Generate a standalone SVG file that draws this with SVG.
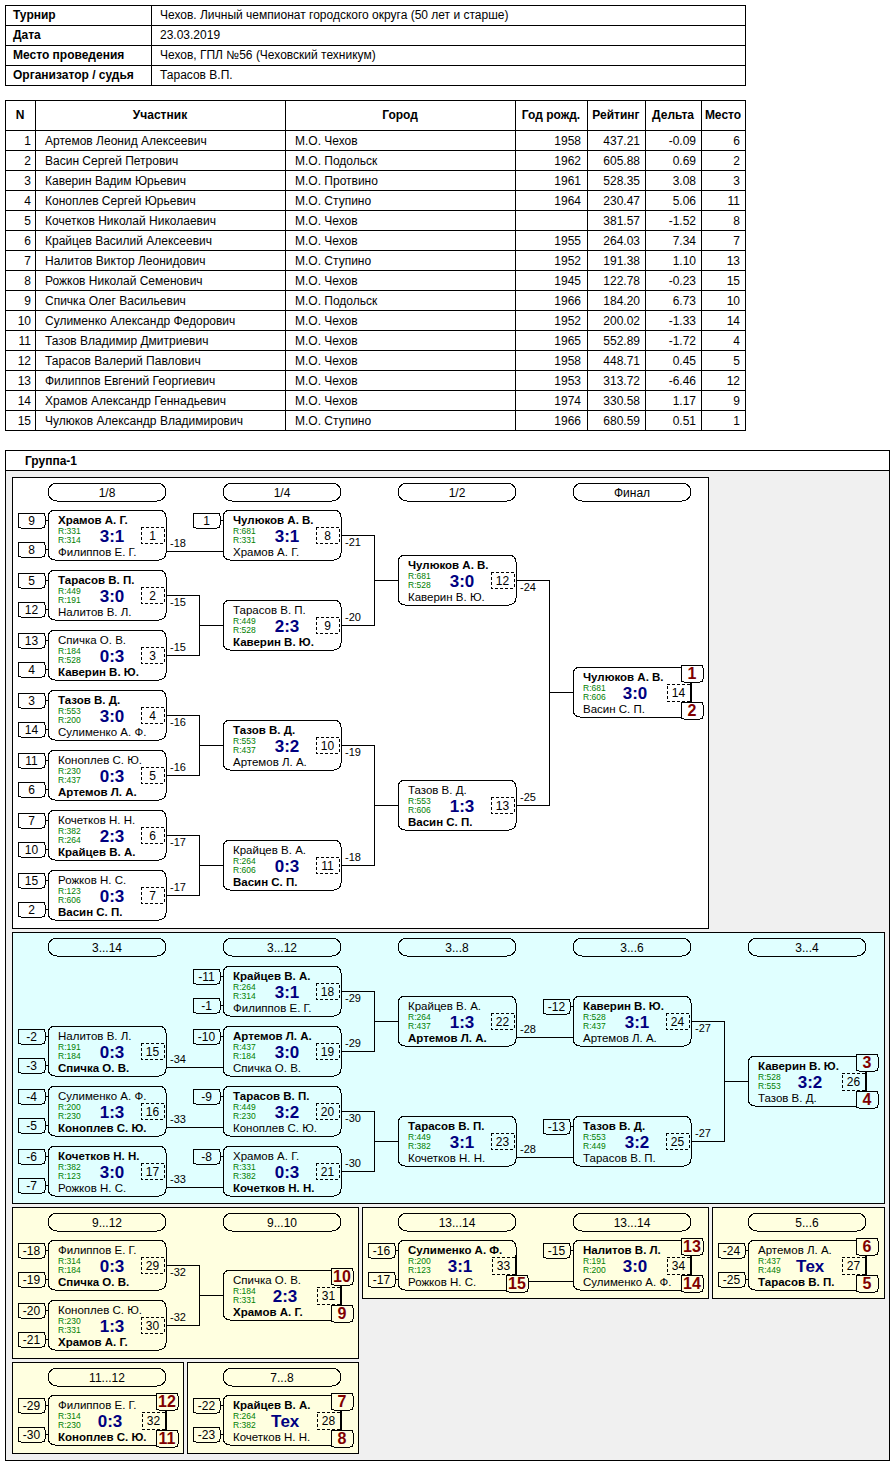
<svg xmlns="http://www.w3.org/2000/svg" width="895" height="1465" viewBox="0 0 895 1465">
<style>
text{font-family:"Liberation Sans",Arial,sans-serif;font-size:12px;fill:#000}
.b{font-weight:bold}
.n{font-size:11.5px}
.r{font-size:8.5px;fill:#008000}
.sc{font-size:17px;font-weight:bold;fill:#000080;text-anchor:middle}
.c{text-anchor:middle}
.e{text-anchor:end}
.lb{font-size:11px}
.bt{font-size:16px;font-weight:bold;fill:#800000;text-anchor:middle}
rect,line,path{shape-rendering:crispEdges}
.bx,.sd,.pl{fill:none;stroke:#000}
.ds{fill:none;stroke:#000;stroke-dasharray:3,2}
.ln{fill:none;stroke:#000}
.bd{stroke:#000;fill:#fff}
.cy .bd{fill:#e0ffff}
.yl .bd{fill:#ffffe0}
.tb{fill:#fff;stroke:#000}
</style>

<g id="info-table">
<rect class="tb" x="5" y="5" width="740" height="80"/>
<path class="ln" d="M5,25H745M5,45H745M5,65H745M151,5V85"/>
<text class="b" x="13" y="19">Турнир</text><text x="160" y="19">Чехов. Личный чемпионат городского округа (50 лет и старше)</text>
<text class="b" x="13" y="39">Дата</text><text x="160" y="39">23.03.2019</text>
<text class="b" x="13" y="59">Место проведения</text><text x="160" y="59">Чехов, ГПЛ №56 (Чеховский техникум)</text>
<text class="b" x="13" y="79">Организатор / судья</text><text x="160" y="79">Тарасов В.П.</text>
</g>

<g id="players-table">
<rect class="tb" x="5" y="100" width="740" height="330"/>
<path class="ln" d="M5,130H745M5,150H745M5,170H745M5,190H745M5,210H745M5,230H745M5,250H745M5,270H745M5,290H745M5,310H745M5,330H745M5,350H745M5,370H745M5,390H745M5,410H745M35,100V430M285,100V430M515,100V430M587,100V430M645,100V430M701,100V430"/>
<text class="b c" x="20" y="119">N</text>
<text class="b c" x="160" y="119">Участник</text>
<text class="b c" x="400" y="119">Город</text>
<text class="b c" x="551" y="119">Год рожд.</text>
<text class="b c" x="616" y="119">Рейтинг</text>
<text class="b c" x="673" y="119">Дельта</text>
<text class="b c" x="723" y="119">Место</text>
<g>
<text class="e" x="31" y="144.5">1</text><text x="45" y="144.5">Артемов Леонид Алексеевич</text><text x="295" y="144.5">М.О. Чехов</text><text class="e" x="581" y="144.5">1958</text><text class="e" x="640" y="144.5">437.21</text><text class="e" x="696" y="144.5">-0.09</text><text class="e" x="740" y="144.5">6</text>
<text class="e" x="31" y="164.5">2</text><text x="45" y="164.5">Васин Сергей Петрович</text><text x="295" y="164.5">М.О. Подольск</text><text class="e" x="581" y="164.5">1962</text><text class="e" x="640" y="164.5">605.88</text><text class="e" x="696" y="164.5">0.69</text><text class="e" x="740" y="164.5">2</text>
<text class="e" x="31" y="184.5">3</text><text x="45" y="184.5">Каверин Вадим Юрьевич</text><text x="295" y="184.5">М.О. Протвино</text><text class="e" x="581" y="184.5">1961</text><text class="e" x="640" y="184.5">528.35</text><text class="e" x="696" y="184.5">3.08</text><text class="e" x="740" y="184.5">3</text>
<text class="e" x="31" y="204.5">4</text><text x="45" y="204.5">Коноплев Сергей Юрьевич</text><text x="295" y="204.5">М.О. Ступино</text><text class="e" x="581" y="204.5">1964</text><text class="e" x="640" y="204.5">230.47</text><text class="e" x="696" y="204.5">5.06</text><text class="e" x="740" y="204.5">11</text>
<text class="e" x="31" y="224.5">5</text><text x="45" y="224.5">Кочетков Николай Николаевич</text><text x="295" y="224.5">М.О. Чехов</text><text class="e" x="640" y="224.5">381.57</text><text class="e" x="696" y="224.5">-1.52</text><text class="e" x="740" y="224.5">8</text>
<text class="e" x="31" y="244.5">6</text><text x="45" y="244.5">Крайцев Василий Алексеевич</text><text x="295" y="244.5">М.О. Чехов</text><text class="e" x="581" y="244.5">1955</text><text class="e" x="640" y="244.5">264.03</text><text class="e" x="696" y="244.5">7.34</text><text class="e" x="740" y="244.5">7</text>
<text class="e" x="31" y="264.5">7</text><text x="45" y="264.5">Налитов Виктор Леонидович</text><text x="295" y="264.5">М.О. Ступино</text><text class="e" x="581" y="264.5">1952</text><text class="e" x="640" y="264.5">191.38</text><text class="e" x="696" y="264.5">1.10</text><text class="e" x="740" y="264.5">13</text>
<text class="e" x="31" y="284.5">8</text><text x="45" y="284.5">Рожков Николай Семенович</text><text x="295" y="284.5">М.О. Чехов</text><text class="e" x="581" y="284.5">1945</text><text class="e" x="640" y="284.5">122.78</text><text class="e" x="696" y="284.5">-0.23</text><text class="e" x="740" y="284.5">15</text>
<text class="e" x="31" y="304.5">9</text><text x="45" y="304.5">Спичка Олег Васильевич</text><text x="295" y="304.5">М.О. Подольск</text><text class="e" x="581" y="304.5">1966</text><text class="e" x="640" y="304.5">184.20</text><text class="e" x="696" y="304.5">6.73</text><text class="e" x="740" y="304.5">10</text>
<text class="e" x="31" y="324.5">10</text><text x="45" y="324.5">Сулименко Александр Федорович</text><text x="295" y="324.5">М.О. Чехов</text><text class="e" x="581" y="324.5">1952</text><text class="e" x="640" y="324.5">200.02</text><text class="e" x="696" y="324.5">-1.33</text><text class="e" x="740" y="324.5">14</text>
<text class="e" x="31" y="344.5">11</text><text x="45" y="344.5">Тазов Владимир Дмитриевич</text><text x="295" y="344.5">М.О. Чехов</text><text class="e" x="581" y="344.5">1965</text><text class="e" x="640" y="344.5">552.89</text><text class="e" x="696" y="344.5">-1.72</text><text class="e" x="740" y="344.5">4</text>
<text class="e" x="31" y="364.5">12</text><text x="45" y="364.5">Тарасов Валерий Павлович</text><text x="295" y="364.5">М.О. Чехов</text><text class="e" x="581" y="364.5">1958</text><text class="e" x="640" y="364.5">448.71</text><text class="e" x="696" y="364.5">0.45</text><text class="e" x="740" y="364.5">5</text>
<text class="e" x="31" y="384.5">13</text><text x="45" y="384.5">Филиппов Евгений Георгиевич</text><text x="295" y="384.5">М.О. Чехов</text><text class="e" x="581" y="384.5">1953</text><text class="e" x="640" y="384.5">313.72</text><text class="e" x="696" y="384.5">-6.46</text><text class="e" x="740" y="384.5">12</text>
<text class="e" x="31" y="404.5">14</text><text x="45" y="404.5">Храмов Александр Геннадьевич</text><text x="295" y="404.5">М.О. Чехов</text><text class="e" x="581" y="404.5">1974</text><text class="e" x="640" y="404.5">330.58</text><text class="e" x="696" y="404.5">1.17</text><text class="e" x="740" y="404.5">9</text>
<text class="e" x="31" y="424.5">15</text><text x="45" y="424.5">Чулюков Александр Владимирович</text><text x="295" y="424.5">М.О. Ступино</text><text class="e" x="581" y="424.5">1966</text><text class="e" x="640" y="424.5">680.59</text><text class="e" x="696" y="424.5">0.51</text><text class="e" x="740" y="424.5">1</text>
</g>
</g>

<g id="group-frame">
<rect x="5" y="450" width="884" height="1010" fill="#f0f0f0" stroke="#000"/>
<rect x="5" y="450" width="884" height="20" fill="#fff" stroke="#000"/>
<text class="b" x="25" y="465">Группа-1</text>
<rect x="12" y="477" width="696" height="451" fill="#fff" stroke="#000"/>
<rect x="12" y="932" width="872" height="271" fill="#e0ffff" stroke="#000"/>
<rect x="12" y="1207" width="346" height="151" fill="#ffffe0" stroke="#000"/>
<rect x="362" y="1207" width="346" height="91" fill="#ffffe0" stroke="#000"/>
<rect x="712" y="1207" width="172" height="91" fill="#ffffe0" stroke="#000"/>
<rect x="12" y="1362" width="171" height="91" fill="#ffffe0" stroke="#000"/>
<rect x="187" y="1362" width="171" height="91" fill="#ffffe0" stroke="#000"/>
</g>

<g id="round-headers">
<rect class="pl" x="48" y="483" width="118" height="18" rx="9"/><text class="c" x="107" y="496.5">1/8</text>
<rect class="pl" x="223" y="483" width="118" height="18" rx="9"/><text class="c" x="282" y="496.5">1/4</text>
<rect class="pl" x="398" y="483" width="118" height="18" rx="9"/><text class="c" x="457" y="496.5">1/2</text>
<rect class="pl" x="573" y="483" width="118" height="18" rx="9"/><text class="c" x="632" y="496.5">Финал</text>
<rect class="pl" x="48" y="938" width="118" height="18" rx="9"/><text class="c" x="107" y="951.5">3...14</text>
<rect class="pl" x="223" y="938" width="118" height="18" rx="9"/><text class="c" x="282" y="951.5">3...12</text>
<rect class="pl" x="398" y="938" width="118" height="18" rx="9"/><text class="c" x="457" y="951.5">3...8</text>
<rect class="pl" x="573" y="938" width="118" height="18" rx="9"/><text class="c" x="632" y="951.5">3...6</text>
<rect class="pl" x="748" y="938" width="118" height="18" rx="9"/><text class="c" x="807" y="951.5">3...4</text>
<rect class="pl" x="48" y="1213" width="118" height="18" rx="9"/><text class="c" x="107" y="1226.5">9...12</text>
<rect class="pl" x="223" y="1213" width="118" height="18" rx="9"/><text class="c" x="282" y="1226.5">9...10</text>
<rect class="pl" x="398" y="1213" width="118" height="18" rx="9"/><text class="c" x="457" y="1226.5">13...14</text>
<rect class="pl" x="573" y="1213" width="118" height="18" rx="9"/><text class="c" x="632" y="1226.5">13...14</text>
<rect class="pl" x="748" y="1213" width="118" height="18" rx="9"/><text class="c" x="807" y="1226.5">5...6</text>
<rect class="pl" x="48" y="1368" width="118" height="18" rx="9"/><text class="c" x="107" y="1381.5">11...12</text>
<rect class="pl" x="223" y="1368" width="118" height="18" rx="9"/><text class="c" x="282" y="1381.5">7...8</text>
</g>

<g id="connectors">
<path class="ln" d="M166,551H223"/>
<path class="ln" d="M166,595H199V655H166M199,625H223"/>
<path class="ln" d="M166,715H199V775H166M199,745H223"/>
<path class="ln" d="M166,835H199V895H166M199,865H223"/>
<path class="ln" d="M341,535H374V625H341M374,580H398"/>
<path class="ln" d="M341,745H374V865H341M374,805H398"/>
<path class="ln" d="M516,580H549V805H516M549,692H573"/>
<path class="ln" d="M166,1067H223M166,1127H223M166,1187H223"/>
<path class="ln" d="M341,991H374V1051H341M374,1021H398"/>
<path class="ln" d="M341,1111H374V1171H341M374,1141H398"/>
<path class="ln" d="M516,1037H573M516,1157H573"/>
<path class="ln" d="M691,1021H724V1141H691M724,1081H748"/>
<path class="ln" d="M166,1265H199V1325H166M199,1295H223"/>
<path class="ln" d="M527,1281H573"/>
<text class="lb" x="170" y="547">-18</text>
<text class="lb" x="170" y="606">-15</text><text class="lb" x="170" y="651">-15</text>
<text class="lb" x="170" y="726">-16</text><text class="lb" x="170" y="771">-16</text>
<text class="lb" x="170" y="846">-17</text><text class="lb" x="170" y="891">-17</text>
<text class="lb" x="345" y="546">-21</text><text class="lb" x="345" y="621">-20</text>
<text class="lb" x="345" y="756">-19</text><text class="lb" x="345" y="861">-18</text>
<text class="lb" x="520" y="591">-24</text><text class="lb" x="520" y="801">-25</text>
<text class="lb" x="170" y="1063">-34</text><text class="lb" x="170" y="1123">-33</text><text class="lb" x="170" y="1183">-33</text>
<text class="lb" x="345" y="1002">-29</text><text class="lb" x="345" y="1047">-29</text>
<text class="lb" x="345" y="1122">-30</text><text class="lb" x="345" y="1167">-30</text>
<text class="lb" x="520" y="1033">-28</text><text class="lb" x="520" y="1153">-28</text>
<text class="lb" x="695" y="1032">-27</text><text class="lb" x="695" y="1137">-27</text>
<text class="lb" x="170" y="1276">-32</text><text class="lb" x="170" y="1321">-32</text>
</g>

<g id="main-bracket">
<g id="m1" transform="translate(48,510)">
<rect class="sd" x="-30" y="3" width="27" height="15" rx="3"/><text class="c" x="-16.5" y="15">9</text><path class="ln" d="M-3,10.5H0"/>
<rect class="sd" x="-30" y="32" width="27" height="15" rx="3"/><text class="c" x="-16.5" y="44">8</text><path class="ln" d="M-3,39.5H0"/>
<rect class="bx" width="118" height="50" rx="7"/>
<text class="n b" x="10" y="13.5">Храмов А. Г.</text><text class="r" x="10" y="23.7">R:331</text><text class="r" x="10" y="33.3">R:314</text>
<text class="sc" x="64" y="31.5">3:1</text><rect class="ds" x="93" y="17" width="23" height="16"/><text class="c" x="104.5" y="30">1</text>
<text class="n" x="10" y="45.6">Филиппов Е. Г.</text>
</g>
<g id="m2" transform="translate(48,570)">
<rect class="sd" x="-30" y="3" width="27" height="15" rx="3"/><text class="c" x="-16.5" y="15">5</text><path class="ln" d="M-3,10.5H0"/>
<rect class="sd" x="-30" y="32" width="27" height="15" rx="3"/><text class="c" x="-16.5" y="44">12</text><path class="ln" d="M-3,39.5H0"/>
<rect class="bx" width="118" height="50" rx="7"/>
<text class="n b" x="10" y="13.5">Тарасов В. П.</text><text class="r" x="10" y="23.7">R:449</text><text class="r" x="10" y="33.3">R:191</text>
<text class="sc" x="64" y="31.5">3:0</text><rect class="ds" x="93" y="17" width="23" height="16"/><text class="c" x="104.5" y="30">2</text>
<text class="n" x="10" y="45.6">Налитов В. Л.</text>
</g>
<g id="m3" transform="translate(48,630)">
<rect class="sd" x="-30" y="3" width="27" height="15" rx="3"/><text class="c" x="-16.5" y="15">13</text><path class="ln" d="M-3,10.5H0"/>
<rect class="sd" x="-30" y="32" width="27" height="15" rx="3"/><text class="c" x="-16.5" y="44">4</text><path class="ln" d="M-3,39.5H0"/>
<rect class="bx" width="118" height="50" rx="7"/>
<text class="n" x="10" y="13.5">Спичка О. В.</text><text class="r" x="10" y="23.7">R:184</text><text class="r" x="10" y="33.3">R:528</text>
<text class="sc" x="64" y="31.5">0:3</text><rect class="ds" x="93" y="17" width="23" height="16"/><text class="c" x="104.5" y="30">3</text>
<text class="n b" x="10" y="45.6">Каверин В. Ю.</text>
</g>
<g id="m4" transform="translate(48,690)">
<rect class="sd" x="-30" y="3" width="27" height="15" rx="3"/><text class="c" x="-16.5" y="15">3</text><path class="ln" d="M-3,10.5H0"/>
<rect class="sd" x="-30" y="32" width="27" height="15" rx="3"/><text class="c" x="-16.5" y="44">14</text><path class="ln" d="M-3,39.5H0"/>
<rect class="bx" width="118" height="50" rx="7"/>
<text class="n b" x="10" y="13.5">Тазов В. Д.</text><text class="r" x="10" y="23.7">R:553</text><text class="r" x="10" y="33.3">R:200</text>
<text class="sc" x="64" y="31.5">3:0</text><rect class="ds" x="93" y="17" width="23" height="16"/><text class="c" x="104.5" y="30">4</text>
<text class="n" x="10" y="45.6">Сулименко А. Ф.</text>
</g>
<g id="m5" transform="translate(48,750)">
<rect class="sd" x="-30" y="3" width="27" height="15" rx="3"/><text class="c" x="-16.5" y="15">11</text><path class="ln" d="M-3,10.5H0"/>
<rect class="sd" x="-30" y="32" width="27" height="15" rx="3"/><text class="c" x="-16.5" y="44">6</text><path class="ln" d="M-3,39.5H0"/>
<rect class="bx" width="118" height="50" rx="7"/>
<text class="n" x="10" y="13.5">Коноплев С. Ю.</text><text class="r" x="10" y="23.7">R:230</text><text class="r" x="10" y="33.3">R:437</text>
<text class="sc" x="64" y="31.5">0:3</text><rect class="ds" x="93" y="17" width="23" height="16"/><text class="c" x="104.5" y="30">5</text>
<text class="n b" x="10" y="45.6">Артемов Л. А.</text>
</g>
<g id="m6" transform="translate(48,810)">
<rect class="sd" x="-30" y="3" width="27" height="15" rx="3"/><text class="c" x="-16.5" y="15">7</text><path class="ln" d="M-3,10.5H0"/>
<rect class="sd" x="-30" y="32" width="27" height="15" rx="3"/><text class="c" x="-16.5" y="44">10</text><path class="ln" d="M-3,39.5H0"/>
<rect class="bx" width="118" height="50" rx="7"/>
<text class="n" x="10" y="13.5">Кочетков Н. Н.</text><text class="r" x="10" y="23.7">R:382</text><text class="r" x="10" y="33.3">R:264</text>
<text class="sc" x="64" y="31.5">2:3</text><rect class="ds" x="93" y="17" width="23" height="16"/><text class="c" x="104.5" y="30">6</text>
<text class="n b" x="10" y="45.6">Крайцев В. А.</text>
</g>
<g id="m7" transform="translate(48,870)">
<rect class="sd" x="-30" y="3" width="27" height="15" rx="3"/><text class="c" x="-16.5" y="15">15</text><path class="ln" d="M-3,10.5H0"/>
<rect class="sd" x="-30" y="32" width="27" height="15" rx="3"/><text class="c" x="-16.5" y="44">2</text><path class="ln" d="M-3,39.5H0"/>
<rect class="bx" width="118" height="50" rx="7"/>
<text class="n" x="10" y="13.5">Рожков Н. С.</text><text class="r" x="10" y="23.7">R:123</text><text class="r" x="10" y="33.3">R:606</text>
<text class="sc" x="64" y="31.5">0:3</text><rect class="ds" x="93" y="17" width="23" height="16"/><text class="c" x="104.5" y="30">7</text>
<text class="n b" x="10" y="45.6">Васин С. П.</text>
</g>
<g id="m8" transform="translate(223,510)">
<rect class="sd" x="-30" y="3" width="27" height="15" rx="3"/><text class="c" x="-16.5" y="15">1</text><path class="ln" d="M-3,10.5H0"/>
<rect class="bx" width="118" height="50" rx="7"/>
<text class="n b" x="10" y="13.5">Чулюков А. В.</text><text class="r" x="10" y="23.7">R:681</text><text class="r" x="10" y="33.3">R:331</text>
<text class="sc" x="64" y="31.5">3:1</text><rect class="ds" x="93" y="17" width="23" height="16"/><text class="c" x="104.5" y="30">8</text>
<text class="n" x="10" y="45.6">Храмов А. Г.</text>
</g>
<g id="m9" transform="translate(223,600)">
<rect class="bx" width="118" height="50" rx="7"/>
<text class="n" x="10" y="13.5">Тарасов В. П.</text><text class="r" x="10" y="23.7">R:449</text><text class="r" x="10" y="33.3">R:528</text>
<text class="sc" x="64" y="31.5">2:3</text><rect class="ds" x="93" y="17" width="23" height="16"/><text class="c" x="104.5" y="30">9</text>
<text class="n b" x="10" y="45.6">Каверин В. Ю.</text>
</g>
<g id="m10" transform="translate(223,720)">
<rect class="bx" width="118" height="50" rx="7"/>
<text class="n b" x="10" y="13.5">Тазов В. Д.</text><text class="r" x="10" y="23.7">R:553</text><text class="r" x="10" y="33.3">R:437</text>
<text class="sc" x="64" y="31.5">3:2</text><rect class="ds" x="93" y="17" width="23" height="16"/><text class="c" x="104.5" y="30">10</text>
<text class="n" x="10" y="45.6">Артемов Л. А.</text>
</g>
<g id="m11" transform="translate(223,840)">
<rect class="bx" width="118" height="50" rx="7"/>
<text class="n" x="10" y="13.5">Крайцев В. А.</text><text class="r" x="10" y="23.7">R:264</text><text class="r" x="10" y="33.3">R:606</text>
<text class="sc" x="64" y="31.5">0:3</text><rect class="ds" x="93" y="17" width="23" height="16"/><text class="c" x="104.5" y="30">11</text>
<text class="n b" x="10" y="45.6">Васин С. П.</text>
</g>
<g id="m12" transform="translate(398,555)">
<rect class="bx" width="118" height="50" rx="7"/>
<text class="n b" x="10" y="13.5">Чулюков А. В.</text><text class="r" x="10" y="23.7">R:681</text><text class="r" x="10" y="33.3">R:528</text>
<text class="sc" x="64" y="31.5">3:0</text><rect class="ds" x="93" y="17" width="23" height="16"/><text class="c" x="104.5" y="30">12</text>
<text class="n" x="10" y="45.6">Каверин В. Ю.</text>
</g>
<g id="m13" transform="translate(398,780)">
<rect class="bx" width="118" height="50" rx="7"/>
<text class="n" x="10" y="13.5">Тазов В. Д.</text><text class="r" x="10" y="23.7">R:553</text><text class="r" x="10" y="33.3">R:606</text>
<text class="sc" x="64" y="31.5">1:3</text><rect class="ds" x="93" y="17" width="23" height="16"/><text class="c" x="104.5" y="30">13</text>
<text class="n b" x="10" y="45.6">Васин С. П.</text>
</g>
<g id="m14" transform="translate(573,667)">
<rect class="bx" width="118" height="50" rx="7"/>
<text class="n b" x="10" y="13.5">Чулюков А. В.</text><text class="r" x="10" y="23.7">R:681</text><text class="r" x="10" y="33.3">R:606</text>
<text class="sc" x="62" y="31.5">3:0</text><rect class="ds" x="94" y="17" width="23" height="17"/><text class="c" x="105.5" y="30">14</text><path class="ln" d="M117,15V35"/>
<rect class="bd" x="108" y="-2" width="22" height="17" rx="3"/><text class="bt" x="119" y="12">1</text>
<rect class="bd" x="108" y="35" width="22" height="17" rx="3"/><text class="bt" x="119" y="49">2</text>
<text class="n" x="10" y="45.6">Васин С. П.</text>
</g>
</g>

<g id="bracket-3-14" class="cy">
<g id="m15" transform="translate(48,1026)">
<rect class="sd" x="-30" y="3" width="27" height="15" rx="3"/><text class="c" x="-16.5" y="15">-2</text><path class="ln" d="M-3,10.5H0"/>
<rect class="sd" x="-30" y="32" width="27" height="15" rx="3"/><text class="c" x="-16.5" y="44">-3</text><path class="ln" d="M-3,39.5H0"/>
<rect class="bx" width="118" height="50" rx="7"/>
<text class="n" x="10" y="13.5">Налитов В. Л.</text><text class="r" x="10" y="23.7">R:191</text><text class="r" x="10" y="33.3">R:184</text>
<text class="sc" x="64" y="31.5">0:3</text><rect class="ds" x="93" y="17" width="23" height="16"/><text class="c" x="104.5" y="30">15</text>
<text class="n b" x="10" y="45.6">Спичка О. В.</text>
</g>
<g id="m16" transform="translate(48,1086)">
<rect class="sd" x="-30" y="3" width="27" height="15" rx="3"/><text class="c" x="-16.5" y="15">-4</text><path class="ln" d="M-3,10.5H0"/>
<rect class="sd" x="-30" y="32" width="27" height="15" rx="3"/><text class="c" x="-16.5" y="44">-5</text><path class="ln" d="M-3,39.5H0"/>
<rect class="bx" width="118" height="50" rx="7"/>
<text class="n" x="10" y="13.5">Сулименко А. Ф.</text><text class="r" x="10" y="23.7">R:200</text><text class="r" x="10" y="33.3">R:230</text>
<text class="sc" x="64" y="31.5">1:3</text><rect class="ds" x="93" y="17" width="23" height="16"/><text class="c" x="104.5" y="30">16</text>
<text class="n b" x="10" y="45.6">Коноплев С. Ю.</text>
</g>
<g id="m17" transform="translate(48,1146)">
<rect class="sd" x="-30" y="3" width="27" height="15" rx="3"/><text class="c" x="-16.5" y="15">-6</text><path class="ln" d="M-3,10.5H0"/>
<rect class="sd" x="-30" y="32" width="27" height="15" rx="3"/><text class="c" x="-16.5" y="44">-7</text><path class="ln" d="M-3,39.5H0"/>
<rect class="bx" width="118" height="50" rx="7"/>
<text class="n b" x="10" y="13.5">Кочетков Н. Н.</text><text class="r" x="10" y="23.7">R:382</text><text class="r" x="10" y="33.3">R:123</text>
<text class="sc" x="64" y="31.5">3:0</text><rect class="ds" x="93" y="17" width="23" height="16"/><text class="c" x="104.5" y="30">17</text>
<text class="n" x="10" y="45.6">Рожков Н. С.</text>
</g>
<g id="m18" transform="translate(223,966)">
<rect class="sd" x="-30" y="3" width="27" height="15" rx="3"/><text class="c" x="-16.5" y="15">-11</text><path class="ln" d="M-3,10.5H0"/>
<rect class="sd" x="-30" y="32" width="27" height="15" rx="3"/><text class="c" x="-16.5" y="44">-1</text><path class="ln" d="M-3,39.5H0"/>
<rect class="bx" width="118" height="50" rx="7"/>
<text class="n b" x="10" y="13.5">Крайцев В. А.</text><text class="r" x="10" y="23.7">R:264</text><text class="r" x="10" y="33.3">R:314</text>
<text class="sc" x="64" y="31.5">3:1</text><rect class="ds" x="93" y="17" width="23" height="16"/><text class="c" x="104.5" y="30">18</text>
<text class="n" x="10" y="45.6">Филиппов Е. Г.</text>
</g>
<g id="m19" transform="translate(223,1026)">
<rect class="sd" x="-30" y="3" width="27" height="15" rx="3"/><text class="c" x="-16.5" y="15">-10</text><path class="ln" d="M-3,10.5H0"/>
<rect class="bx" width="118" height="50" rx="7"/>
<text class="n b" x="10" y="13.5">Артемов Л. А.</text><text class="r" x="10" y="23.7">R:437</text><text class="r" x="10" y="33.3">R:184</text>
<text class="sc" x="64" y="31.5">3:0</text><rect class="ds" x="93" y="17" width="23" height="16"/><text class="c" x="104.5" y="30">19</text>
<text class="n" x="10" y="45.6">Спичка О. В.</text>
</g>
<g id="m20" transform="translate(223,1086)">
<rect class="sd" x="-30" y="3" width="27" height="15" rx="3"/><text class="c" x="-16.5" y="15">-9</text><path class="ln" d="M-3,10.5H0"/>
<rect class="bx" width="118" height="50" rx="7"/>
<text class="n b" x="10" y="13.5">Тарасов В. П.</text><text class="r" x="10" y="23.7">R:449</text><text class="r" x="10" y="33.3">R:230</text>
<text class="sc" x="64" y="31.5">3:2</text><rect class="ds" x="93" y="17" width="23" height="16"/><text class="c" x="104.5" y="30">20</text>
<text class="n" x="10" y="45.6">Коноплев С. Ю.</text>
</g>
<g id="m21" transform="translate(223,1146)">
<rect class="sd" x="-30" y="3" width="27" height="15" rx="3"/><text class="c" x="-16.5" y="15">-8</text><path class="ln" d="M-3,10.5H0"/>
<rect class="bx" width="118" height="50" rx="7"/>
<text class="n" x="10" y="13.5">Храмов А. Г.</text><text class="r" x="10" y="23.7">R:331</text><text class="r" x="10" y="33.3">R:382</text>
<text class="sc" x="64" y="31.5">0:3</text><rect class="ds" x="93" y="17" width="23" height="16"/><text class="c" x="104.5" y="30">21</text>
<text class="n b" x="10" y="45.6">Кочетков Н. Н.</text>
</g>
<g id="m22" transform="translate(398,996)">
<rect class="bx" width="118" height="50" rx="7"/>
<text class="n" x="10" y="13.5">Крайцев В. А.</text><text class="r" x="10" y="23.7">R:264</text><text class="r" x="10" y="33.3">R:437</text>
<text class="sc" x="64" y="31.5">1:3</text><rect class="ds" x="93" y="17" width="23" height="16"/><text class="c" x="104.5" y="30">22</text>
<text class="n b" x="10" y="45.6">Артемов Л. А.</text>
</g>
<g id="m23" transform="translate(398,1116)">
<rect class="bx" width="118" height="50" rx="7"/>
<text class="n b" x="10" y="13.5">Тарасов В. П.</text><text class="r" x="10" y="23.7">R:449</text><text class="r" x="10" y="33.3">R:382</text>
<text class="sc" x="64" y="31.5">3:1</text><rect class="ds" x="93" y="17" width="23" height="16"/><text class="c" x="104.5" y="30">23</text>
<text class="n" x="10" y="45.6">Кочетков Н. Н.</text>
</g>
<g id="m24" transform="translate(573,996)">
<rect class="sd" x="-30" y="3" width="27" height="15" rx="3"/><text class="c" x="-16.5" y="15">-12</text><path class="ln" d="M-3,10.5H0"/>
<rect class="bx" width="118" height="50" rx="7"/>
<text class="n b" x="10" y="13.5">Каверин В. Ю.</text><text class="r" x="10" y="23.7">R:528</text><text class="r" x="10" y="33.3">R:437</text>
<text class="sc" x="64" y="31.5">3:1</text><rect class="ds" x="93" y="17" width="23" height="16"/><text class="c" x="104.5" y="30">24</text>
<text class="n" x="10" y="45.6">Артемов Л. А.</text>
</g>
<g id="m25" transform="translate(573,1116)">
<rect class="sd" x="-30" y="3" width="27" height="15" rx="3"/><text class="c" x="-16.5" y="15">-13</text><path class="ln" d="M-3,10.5H0"/>
<rect class="bx" width="118" height="50" rx="7"/>
<text class="n b" x="10" y="13.5">Тазов В. Д.</text><text class="r" x="10" y="23.7">R:553</text><text class="r" x="10" y="33.3">R:449</text>
<text class="sc" x="64" y="31.5">3:2</text><rect class="ds" x="93" y="17" width="23" height="16"/><text class="c" x="104.5" y="30">25</text>
<text class="n" x="10" y="45.6">Тарасов В. П.</text>
</g>
<g id="m26" transform="translate(748,1056)">
<rect class="bx" width="118" height="50" rx="7"/>
<text class="n b" x="10" y="13.5">Каверин В. Ю.</text><text class="r" x="10" y="23.7">R:528</text><text class="r" x="10" y="33.3">R:553</text>
<text class="sc" x="62" y="31.5">3:2</text><rect class="ds" x="94" y="17" width="23" height="17"/><text class="c" x="105.5" y="30">26</text><path class="ln" d="M117,15V35"/>
<rect class="bd" x="108" y="-2" width="22" height="17" rx="3"/><text class="bt" x="119" y="12">3</text>
<rect class="bd" x="108" y="35" width="22" height="17" rx="3"/><text class="bt" x="119" y="49">4</text>
<text class="n" x="10" y="45.6">Тазов В. Д.</text>
</g>
</g>

<g id="bracket-places" class="yl">
<g id="m29" transform="translate(48,1240)">
<rect class="sd" x="-30" y="3" width="27" height="15" rx="3"/><text class="c" x="-16.5" y="15">-18</text><path class="ln" d="M-3,10.5H0"/>
<rect class="sd" x="-30" y="32" width="27" height="15" rx="3"/><text class="c" x="-16.5" y="44">-19</text><path class="ln" d="M-3,39.5H0"/>
<rect class="bx" width="118" height="50" rx="7"/>
<text class="n" x="10" y="13.5">Филиппов Е. Г.</text><text class="r" x="10" y="23.7">R:314</text><text class="r" x="10" y="33.3">R:184</text>
<text class="sc" x="64" y="31.5">0:3</text><rect class="ds" x="93" y="17" width="23" height="16"/><text class="c" x="104.5" y="30">29</text>
<text class="n b" x="10" y="45.6">Спичка О. В.</text>
</g>
<g id="m30" transform="translate(48,1300)">
<rect class="sd" x="-30" y="3" width="27" height="15" rx="3"/><text class="c" x="-16.5" y="15">-20</text><path class="ln" d="M-3,10.5H0"/>
<rect class="sd" x="-30" y="32" width="27" height="15" rx="3"/><text class="c" x="-16.5" y="44">-21</text><path class="ln" d="M-3,39.5H0"/>
<rect class="bx" width="118" height="50" rx="7"/>
<text class="n" x="10" y="13.5">Коноплев С. Ю.</text><text class="r" x="10" y="23.7">R:230</text><text class="r" x="10" y="33.3">R:331</text>
<text class="sc" x="64" y="31.5">1:3</text><rect class="ds" x="93" y="17" width="23" height="16"/><text class="c" x="104.5" y="30">30</text>
<text class="n b" x="10" y="45.6">Храмов А. Г.</text>
</g>
<g id="m31" transform="translate(223,1270)">
<rect class="bx" width="118" height="50" rx="7"/>
<text class="n" x="10" y="13.5">Спичка О. В.</text><text class="r" x="10" y="23.7">R:184</text><text class="r" x="10" y="33.3">R:331</text>
<text class="sc" x="62" y="31.5">2:3</text><rect class="ds" x="94" y="17" width="23" height="17"/><text class="c" x="105.5" y="30">31</text><path class="ln" d="M117,15V35"/>
<rect class="bd" x="108" y="-2" width="22" height="17" rx="3"/><text class="bt" x="119" y="12">10</text>
<rect class="bd" x="108" y="35" width="22" height="17" rx="3"/><text class="bt" x="119" y="49">9</text>
<text class="n b" x="10" y="45.6">Храмов А. Г.</text>
</g>
<g id="m33" transform="translate(398,1240)">
<rect class="sd" x="-30" y="3" width="27" height="15" rx="3"/><text class="c" x="-16.5" y="15">-16</text><path class="ln" d="M-3,10.5H0"/>
<rect class="sd" x="-30" y="32" width="27" height="15" rx="3"/><text class="c" x="-16.5" y="44">-17</text><path class="ln" d="M-3,39.5H0"/>
<rect class="bx" width="118" height="50" rx="7"/>
<text class="n b" x="10" y="13.5">Сулименко А. Ф.</text><text class="r" x="10" y="23.7">R:200</text><text class="r" x="10" y="33.3">R:123</text>
<text class="sc" x="62" y="31.5">3:1</text><rect class="ds" x="94" y="17" width="23" height="17"/><text class="c" x="105.5" y="30">33</text><path class="ln" d="M117,15V35"/>
<rect class="bd" x="108" y="35" width="22" height="17" rx="3"/><text class="bt" x="119" y="49">15</text>
<text class="n" x="10" y="45.6">Рожков Н. С.</text>
</g>
<g id="m34" transform="translate(573,1240)">
<rect class="sd" x="-30" y="3" width="27" height="15" rx="3"/><text class="c" x="-16.5" y="15">-15</text><path class="ln" d="M-3,10.5H0"/>
<rect class="bx" width="118" height="50" rx="7"/>
<text class="n b" x="10" y="13.5">Налитов В. Л.</text><text class="r" x="10" y="23.7">R:191</text><text class="r" x="10" y="33.3">R:200</text>
<text class="sc" x="62" y="31.5">3:0</text><rect class="ds" x="94" y="17" width="23" height="17"/><text class="c" x="105.5" y="30">34</text><path class="ln" d="M117,15V35"/>
<rect class="bd" x="108" y="-2" width="22" height="17" rx="3"/><text class="bt" x="119" y="12">13</text>
<rect class="bd" x="108" y="35" width="22" height="17" rx="3"/><text class="bt" x="119" y="49">14</text>
<text class="n" x="10" y="45.6">Сулименко А. Ф.</text>
</g>
<g id="m27" transform="translate(748,1240)">
<rect class="sd" x="-30" y="3" width="27" height="15" rx="3"/><text class="c" x="-16.5" y="15">-24</text><path class="ln" d="M-3,10.5H0"/>
<rect class="sd" x="-30" y="32" width="27" height="15" rx="3"/><text class="c" x="-16.5" y="44">-25</text><path class="ln" d="M-3,39.5H0"/>
<rect class="bx" width="118" height="50" rx="7"/>
<text class="n" x="10" y="13.5">Артемов Л. А.</text><text class="r" x="10" y="23.7">R:437</text><text class="r" x="10" y="33.3">R:449</text>
<text class="sc" x="62" y="31.5">Тех</text><rect class="ds" x="94" y="17" width="23" height="17"/><text class="c" x="105.5" y="30">27</text><path class="ln" d="M117,15V35"/>
<rect class="bd" x="108" y="-2" width="22" height="17" rx="3"/><text class="bt" x="119" y="12">6</text>
<rect class="bd" x="108" y="35" width="22" height="17" rx="3"/><text class="bt" x="119" y="49">5</text>
<text class="n b" x="10" y="45.6">Тарасов В. П.</text>
</g>
<g id="m32" transform="translate(48,1395)">
<rect class="sd" x="-30" y="3" width="27" height="15" rx="3"/><text class="c" x="-16.5" y="15">-29</text><path class="ln" d="M-3,10.5H0"/>
<rect class="sd" x="-30" y="32" width="27" height="15" rx="3"/><text class="c" x="-16.5" y="44">-30</text><path class="ln" d="M-3,39.5H0"/>
<rect class="bx" width="118" height="50" rx="7"/>
<text class="n" x="10" y="13.5">Филиппов Е. Г.</text><text class="r" x="10" y="23.7">R:314</text><text class="r" x="10" y="33.3">R:230</text>
<text class="sc" x="62" y="31.5">0:3</text><rect class="ds" x="94" y="17" width="23" height="17"/><text class="c" x="105.5" y="30">32</text><path class="ln" d="M117,15V35"/>
<rect class="bd" x="108" y="-2" width="22" height="17" rx="3"/><text class="bt" x="119" y="12">12</text>
<rect class="bd" x="108" y="35" width="22" height="17" rx="3"/><text class="bt" x="119" y="49">11</text>
<text class="n b" x="10" y="45.6">Коноплев С. Ю.</text>
</g>
<g id="m28" transform="translate(223,1395)">
<rect class="sd" x="-30" y="3" width="27" height="15" rx="3"/><text class="c" x="-16.5" y="15">-22</text><path class="ln" d="M-3,10.5H0"/>
<rect class="sd" x="-30" y="32" width="27" height="15" rx="3"/><text class="c" x="-16.5" y="44">-23</text><path class="ln" d="M-3,39.5H0"/>
<rect class="bx" width="118" height="50" rx="7"/>
<text class="n b" x="10" y="13.5">Крайцев В. А.</text><text class="r" x="10" y="23.7">R:264</text><text class="r" x="10" y="33.3">R:382</text>
<text class="sc" x="62" y="31.5">Тех</text><rect class="ds" x="94" y="17" width="23" height="17"/><text class="c" x="105.5" y="30">28</text><path class="ln" d="M117,15V35"/>
<rect class="bd" x="108" y="-2" width="22" height="17" rx="3"/><text class="bt" x="119" y="12">7</text>
<rect class="bd" x="108" y="35" width="22" height="17" rx="3"/><text class="bt" x="119" y="49">8</text>
<text class="n" x="10" y="45.6">Кочетков Н. Н.</text>
</g>
</g>
</svg>
